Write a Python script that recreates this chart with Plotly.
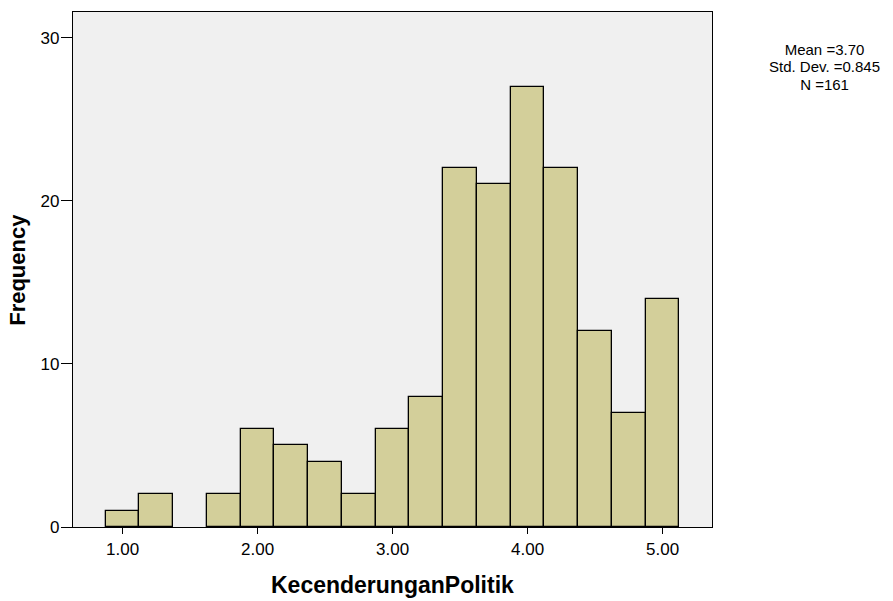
import plotly.graph_objects as go

bin_centers = [1.00, 1.25, 1.50, 1.75, 2.00, 2.25, 2.50, 2.75, 3.00, 3.25,
               3.50, 3.75, 4.00, 4.25, 4.50, 4.75, 5.00]
frequencies = [1, 2, 0, 2, 6, 5, 4, 2, 6, 8, 22, 21, 27, 22, 12, 7, 14]
x_tick_vals = [1, 2, 3, 4, 5]
x_tick_text = ["1.00", "2.00", "3.00", "4.00", "5.00"]
y_tick_vals = [0, 10, 20, 30]
stats_lines = ["Mean =3.70", "Std. Dev. =0.845", "N =161"]

FONT = "Liberation Sans, Arial, sans-serif"

fig = go.Figure()
fig.add_trace(go.Bar(
    x=bin_centers, y=frequencies, width=0.25,
    marker=dict(color="#D3CF9A",
                line=dict(color="black", width=[0 if f == 0 else 1.3 for f in frequencies])),
    showlegend=False, hoverinfo="x+y",
))

W, H = 893, 601
L, R, T, B = 72.7, 711.7, 10.3, 527.3

fig.update_layout(
    width=W, height=H,
    margin=dict(l=L, r=W - R, t=T, b=H - B, pad=0),
    paper_bgcolor="white", plot_bgcolor="#F0F0F0",
    bargap=0,
    font=dict(family=FONT, color="black", size=17),
    xaxis=dict(range=[0.633, 5.366], tickvals=x_tick_vals, ticktext=x_tick_text,
               ticks="outside", ticklen=6, tickwidth=1.3, tickcolor="black",
               showline=True, linecolor="black", linewidth=1.3, mirror=True,
               showgrid=False, zeroline=False, tickfont=dict(size=17),
               ticklabelstandoff=0),
    yaxis=dict(range=[0, 31.57], tickvals=y_tick_vals,
               ticks="outside", ticklen=11, tickwidth=1.3, tickcolor="black",
               showline=True, linecolor="black", linewidth=1.3, mirror=True,
               showgrid=False, zeroline=False, tickfont=dict(size=17),
               ticklabelstandoff=-2),
)

fig.add_annotation(text="<b>KecenderunganPolitik</b>", xref="paper", yref="paper",
                   x=0.5, y=0, yshift=-58, showarrow=False,
                   xanchor="center", yanchor="middle", font=dict(size=23, family=FONT))
fig.add_annotation(text="<b>Frequency</b>", xref="paper", yref="paper",
                   x=0, y=0.5, xshift=-55.7, showarrow=False, textangle=-90,
                   xanchor="center", yanchor="middle", font=dict(size=22, family=FONT))

# stats block: one text, tight line pitch
stats_text = "<br>".join('<span style="font-size:15px">%s</span>' % s for s in stats_lines)
fig.add_annotation(text=stats_text, xref="paper", yref="paper",
                   x=(824 - L) / (R - L), y=(B - 65.5) / (B - T),
                   showarrow=False, xanchor="center", yanchor="middle", align="center",
                   borderpad=0, font=dict(size=13.4, family=FONT))

fig.write_html("out.html", config={"displayModeBar": False},
               post_script="document.body.style.margin='0';document.body.style.overflow='hidden';")
